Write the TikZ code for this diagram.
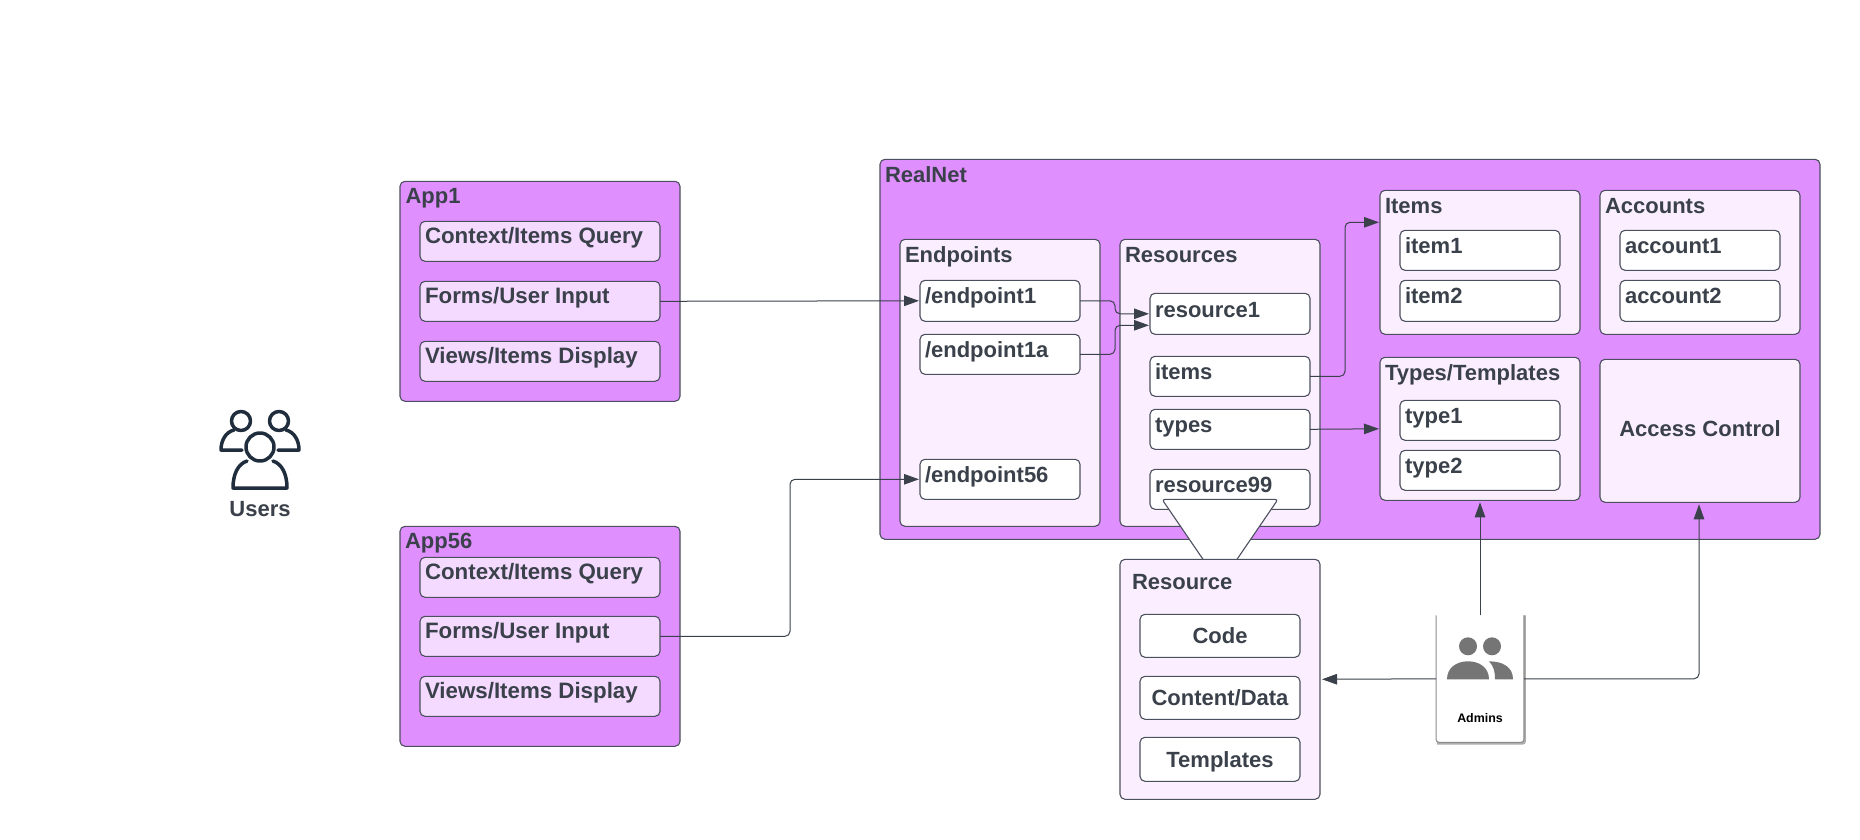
\documentclass[tikz,border=0pt]{standalone}
\usepackage{fontspec}
\setmainfont{Liberation Sans}
\usetikzlibrary{arrows.meta,calc}
\definecolor{purp}{HTML}{E08FFF}
\definecolor{pale}{HTML}{FBEFFF}
\definecolor{mid}{HTML}{F4DAFF}
\definecolor{ink}{HTML}{3A414A}
\definecolor{edge}{HTML}{4C505E}
\definecolor{navy}{HTML}{1F2D3D}
\definecolor{adm}{HTML}{757575}
\tikzset{
  bx/.style={draw=edge,line width=1.1pt,rounded corners=5pt,inner sep=0pt,outer sep=0pt},
  purplebox/.style={bx,fill=purp},
  palebox/.style={bx,fill=pale},
  midbox/.style={bx,fill=mid},
  whitebox/.style={bx,fill=white},
  txt/.style={font=\fontsize{22}{26}\selectfont\bfseries,text=ink,inner sep=0pt,outer sep=0pt,yshift=-0.3pt},
  apptxt/.style={font=\fontsize{22.3}{26}\selectfont\bfseries},
  conn/.style={draw=ink,line width=1pt,rounded corners=5pt,-{Triangle[length=15pt,width=10.5pt]},shorten >=1pt},
  usr/.style={draw=navy,line width=3.5pt,line cap=round,line join=round},
}
% name, x1, y1, x2, y2, style
\newcommand\boxnode[6]{%
  \pgfmathsetmacro\bw{#4-#2}\pgfmathsetmacro\bh{#5-#3}%
  \node[#6,minimum width=\bw pt,minimum height=\bh pt] (#1) at ({(#2+#4)/2},{(#3+#5)/2}) {};}
% name, x, baseline y, text (left aligned)
\newcommand\ltext[4]{\node[txt,anchor=base west] (#1) at (#2,#3) {#4};}
\newcommand\atext[4]{\node[txt,apptxt,anchor=base west] (#1) at (#2,#3) {#4};}
\newcommand\ctext[4]{\node[txt,anchor=base] (#1) at (#2,#3) {#4};}
\begin{document}
\begin{tikzpicture}[x=1pt,y=-1pt]
\path[use as bounding box,fill=white] (0,0) rectangle (1860,840);

% Users icon
\draw[usr] (242,450) -- (221,450) .. controls (221,440) and (226,432) .. (234,430);
\draw[usr] (278,450) -- (299,450) .. controls (299,440) and (294,432) .. (286,430);
\draw[usr] (241,421) circle (9.5);
\draw[usr] (279,421) circle (9.5);
\draw[usr,fill=white] (260,447) circle (14);
\draw[usr] (247,461) .. controls (238,464) and (233,474) .. (233,488) -- (287,488) .. controls (287,474) and (282,464) .. (273,461);
\ctext{users}{260}{516}{Users}

\begin{scope}[yshift=0.7pt]
% App1
\boxnode{appA}{400}{182}{680}{402}{purplebox}
\ltext{appAt}{405.5}{204}{App1}
\boxnode{ctxA}{420}{222}{660}{262}{midbox}
\atext{ctxAt}{425}{244}{Context/Items Query}
\boxnode{formA}{420}{282}{660}{322}{midbox}
\atext{formAt}{425}{304}{Forms/User Input}
\boxnode{viewA}{420}{342}{660}{382}{midbox}
\atext{viewAt}{425}{364}{Views/Items Display}

% App56
\boxnode{appB}{400}{527}{680}{747}{purplebox}
\ltext{appBt}{405}{549}{App56}
\boxnode{ctxB}{420}{558}{660}{598}{midbox}
\atext{ctxBt}{425}{580}{Context/Items Query}
\boxnode{formB}{420}{617}{660}{657}{midbox}
\atext{formBt}{425}{639}{Forms/User Input}
\boxnode{viewB}{420}{677}{660}{717}{midbox}
\atext{viewBt}{425}{699}{Views/Items Display}

% RealNet
\boxnode{realnet}{880}{160}{1820}{540}{purplebox}
\ltext{realnett}{885}{183}{RealNet}

\boxnode{endpoints}{900}{240}{1100}{527}{palebox}
\ltext{endpointst}{905}{263}{Endpoints}
\boxnode{epA}{920}{281}{1080}{322}{whitebox}
\ltext{epAt}{925}{304}{/endpoint1}
\boxnode{epB}{920}{335}{1080}{375}{whitebox}
\ltext{epBt}{925}{358}{/endpoint1a}
\boxnode{epC}{920}{460}{1080}{500}{whitebox}
\ltext{epCt}{925}{483}{/endpoint56}

\boxnode{resources}{1120}{240}{1320}{527}{palebox}
\ltext{resourcest}{1125}{263}{Resources}
\boxnode{resA}{1150}{294}{1310}{335}{whitebox}
\ltext{resAt}{1155}{318}{resource1}
\boxnode{resItems}{1150}{357}{1310}{397}{whitebox}
\ltext{resItemst}{1155}{380}{items}
\boxnode{resTypes}{1150}{410}{1310}{450}{whitebox}
\ltext{resTypest}{1155}{433}{types}
\boxnode{resN}{1150}{470}{1310}{510}{whitebox}
\ltext{resNt}{1155}{493}{resource99}

\boxnode{items}{1380}{191}{1580}{335}{palebox}
\ltext{itemst}{1385}{214}{Items}
\boxnode{itemA}{1400}{231}{1560}{271}{whitebox}
\ltext{itemAt}{1405}{254}{item1}
\boxnode{itemB}{1400}{281}{1560}{322}{whitebox}
\ltext{itemBt}{1405}{304}{item2}

\boxnode{accounts}{1600}{191}{1800}{335}{palebox}
\ltext{accountst}{1605}{214}{Accounts}
\boxnode{accA}{1620}{231}{1780}{271}{whitebox}
\ltext{accAt}{1625}{254}{account1}
\boxnode{accB}{1620}{281}{1780}{322}{whitebox}
\ltext{accBt}{1625}{304}{account2}

\boxnode{types}{1380}{358}{1580}{501}{palebox}
\ltext{typest}{1385}{381}{Types/Templates}
\boxnode{typeA}{1400}{401}{1560}{441}{whitebox}
\ltext{typeAt}{1405}{424}{type1}
\boxnode{typeB}{1400}{451}{1560}{491}{whitebox}
\ltext{typeBt}{1405}{474}{type2}

\boxnode{access}{1600}{360}{1800}{503}{palebox}
\ctext{accesst}{1700}{437}{Access Control}

% funnel from resource99 to Resource
\draw[draw=edge,line width=1.1pt,fill=white,rounded corners=3pt] (1203,560) -- (1162,500) -- (1278,500) -- (1237,560);

% Resource
\boxnode{resource}{1120}{560}{1320}{800}{palebox}
\ltext{resourcet}{1132}{590}{Resource}
\boxnode{code}{1140}{615}{1300}{658}{whitebox}
\ctext{codet}{1220}{644}{Code}
\boxnode{content}{1140}{677}{1300}{720}{whitebox}
\ctext{contentt}{1220}{706}{Content/Data}
\boxnode{templates}{1140}{738}{1300}{782}{whitebox}
\ctext{templatest}{1220}{768}{Templates}

% Admins card
\node[fill=white,inner sep=0pt,outer sep=0pt,minimum width=88pt,minimum height=127pt] (admins) at (1480,679.5) {};
\draw[draw=black!32,line width=2.5pt,rounded corners=2pt] ($(admins.north east)+(0.6,0)$) -- ($(admins.south east)+(0.6,1)$) -- ($(admins.south west)+(1,1)$);
\draw[draw=black!45,line width=1pt,rounded corners=3pt] (admins.north west) -- (admins.south west) -- (admins.south east) -- (admins.north east);
\fill[adm] (1468,647) circle (9) (1492,647) circle (9);
\fill[adm] (1447,680) .. controls (1447,668) and (1457,662) .. (1468,662) .. controls (1479,662) and (1489,668) .. (1489,680) -- cycle;
\fill[adm] (1495,680) .. controls (1495,673) and (1494,667) .. (1489,662) .. controls (1503,662) and (1513,668) .. (1513,680) -- cycle;
\node[font=\fontsize{12.4}{14}\selectfont\bfseries,text=black,inner sep=0pt,anchor=base] (adminst) at (1480,723.5) {Admins};

% Connectors
\coordinate (bendB) at (790,480);
\coordinate (resAlow) at (1150,326);
\coordinate (itemsIn) at (1380,223);
\draw[conn] (formA.east) -- (epA.west);
\draw[conn] (formB.east) -| (bendB) -- (epC.west);
\draw[conn] (epA.east) -- ++(35,0) |- (resA.west);
\draw[conn] (epB.east) -- ++(35,0) |- (resAlow);
\draw[conn] (resItems.east) -- ++(35,0) |- (itemsIn);
\draw[conn] (resTypes.east) -- (types.west);
\draw[conn,shorten >=2pt] (admins.north) -- (types.south);
\draw[conn,shorten >=2pt] (admins.east) -| ([xshift=-1pt]access.south);
\draw[conn,shorten >=2pt] (admins.west) -- (resource.east);
\end{scope}
\end{tikzpicture}
\end{document}
